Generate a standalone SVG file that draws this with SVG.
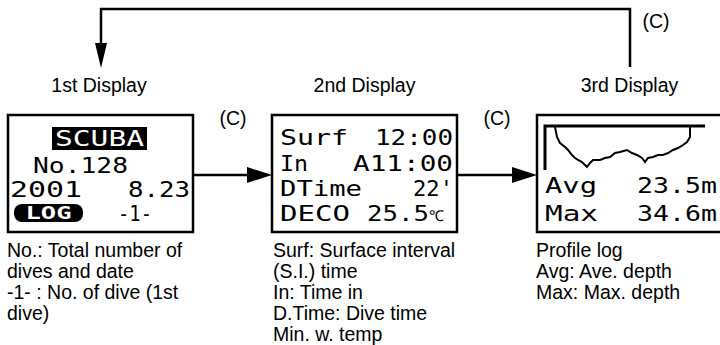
<svg xmlns="http://www.w3.org/2000/svg" width="720" height="345" viewBox="0 0 720 345">
  <defs>
    <style>
      .lbl { font-family: "Liberation Sans", Arial, sans-serif; font-size: 19.5px; fill: #000; }
      .mid { text-anchor: middle; }
      .lcd { font-family: "DejaVu Sans Mono", "Liberation Mono", monospace; font-size: 22px; fill: #000; }
      .inv { fill: #fff; }
      .box { fill: #fff; stroke: #000; stroke-width: 2.5; }
      .wire { fill: none; stroke: #000; stroke-width: 2.5; }
      .head { fill: #000; stroke: none; }
    </style>
  </defs>
  <rect width="720" height="345" fill="#fff"/>

  <g id="connectors">
    <path class="wire" d="M630,67 V9 H101 V45"/>
    <polygon class="head" points="95,43 107,43 101,68"/>
    <line class="wire" x1="193" y1="175" x2="249" y2="175"/>
    <polygon class="head" points="247,167 272,175 247,183"/>
    <line class="wire" x1="457" y1="175" x2="514" y2="175"/>
    <polygon class="head" points="512,167 537,175 512,183"/>
    <text class="lbl mid" x="656" y="28">(C)</text>
    <text class="lbl mid" x="233" y="125">(C)</text>
    <text class="lbl mid" x="497" y="125">(C)</text>
  </g>

  <g id="display1">
    <text class="lbl mid" x="99" y="92">1st Display</text>
    <rect class="box" x="8" y="115" width="185" height="117"/>
    <rect x="52" y="127" width="95" height="23" fill="#000"/>
    <text class="lcd inv" x="55" y="146" textLength="89" lengthAdjust="spacingAndGlyphs">SCUBA</text>
    <text class="lcd" x="33" y="173" textLength="95" lengthAdjust="spacingAndGlyphs">No.128</text>
    <text class="lcd" x="10" y="197" textLength="72" lengthAdjust="spacingAndGlyphs">2001</text>
    <text class="lcd" x="128" y="197" textLength="62" lengthAdjust="spacingAndGlyphs">8.23</text>
    <rect x="14" y="204" width="69" height="18" rx="8" fill="#000"/>
    <text x="48.5" y="219" text-anchor="middle" font-family="DejaVu Sans Mono, monospace" font-size="17" font-weight="bold" fill="#fff" textLength="46" lengthAdjust="spacingAndGlyphs">LOG</text>
    <text class="lcd" x="118" y="221" textLength="34" lengthAdjust="spacingAndGlyphs">-1-</text>
    <text class="lbl" x="7" y="257">No.: Total number of</text>
    <text class="lbl" x="7" y="278">dives and date</text>
    <text class="lbl" x="7" y="299">-1- : No. of dive (1st</text>
    <text class="lbl" x="7" y="320">dive)</text>
  </g>

  <g id="display2">
    <text class="lbl mid" x="364.5" y="92">2nd Display</text>
    <rect class="box" x="272" y="115" width="185" height="117"/>
    <text class="lcd" x="280" y="145" textLength="68" lengthAdjust="spacingAndGlyphs">Surf</text>
    <text class="lcd" x="375" y="145" textLength="78" lengthAdjust="spacingAndGlyphs">12:00</text>
    <text class="lcd" x="280" y="171" textLength="28" lengthAdjust="spacingAndGlyphs">In</text>
    <text class="lcd" x="353" y="171" textLength="100" lengthAdjust="spacingAndGlyphs">A11:00</text>
    <text class="lcd" x="280" y="196" textLength="82" lengthAdjust="spacingAndGlyphs">DTime</text>
    <text class="lcd" x="413" y="196" textLength="40" lengthAdjust="spacingAndGlyphs">22'</text>
    <text class="lcd" x="280" y="221" textLength="70" lengthAdjust="spacingAndGlyphs">DECO</text>
    <text class="lcd" x="367" y="221"><tspan textLength="62" lengthAdjust="spacingAndGlyphs">25.5</tspan><tspan font-size="15">℃</tspan></text>
    <text class="lbl" x="273" y="257">Surf: Surface interval</text>
    <text class="lbl" x="273" y="278">(S.I.) time</text>
    <text class="lbl" x="273" y="299">In: Time in</text>
    <text class="lbl" x="273" y="320">D.Time: Dive time</text>
    <text class="lbl" x="273" y="341">Min. w. temp</text>
  </g>

  <g id="display3">
    <text class="lbl mid" x="629.5" y="92">3rd Display</text>
    <rect class="box" x="537" y="115" width="185" height="117"/>
    <path d="M545,170 V126 H705" fill="none" stroke="#000" stroke-width="3"/>
    <polyline fill="none" stroke="#000" stroke-width="2" points="555,127 557,137 560,143 565,147 568,150 572,155 575,158 578,160 582,162 587,167 590,163 593,160 600,160 605,158 610,157 615,153 620,152 627,150 632,153 637,155 642,158 645,162 648,158 653,157 658,155 663,155 668,153 673,150 678,148 683,145 687,142 690,137 690,127"/>
    <text class="lcd" x="545" y="193" textLength="52" lengthAdjust="spacingAndGlyphs">Avg</text>
    <text class="lcd" x="637" y="193" textLength="80" lengthAdjust="spacingAndGlyphs">23.5m</text>
    <text class="lcd" x="545" y="221" textLength="53" lengthAdjust="spacingAndGlyphs">Max</text>
    <text class="lcd" x="637" y="221" textLength="80" lengthAdjust="spacingAndGlyphs">34.6m</text>
    <text class="lbl" x="536" y="257">Profile log</text>
    <text class="lbl" x="536" y="278">Avg: Ave. depth</text>
    <text class="lbl" x="536" y="299">Max: Max. depth</text>
  </g>
</svg>
